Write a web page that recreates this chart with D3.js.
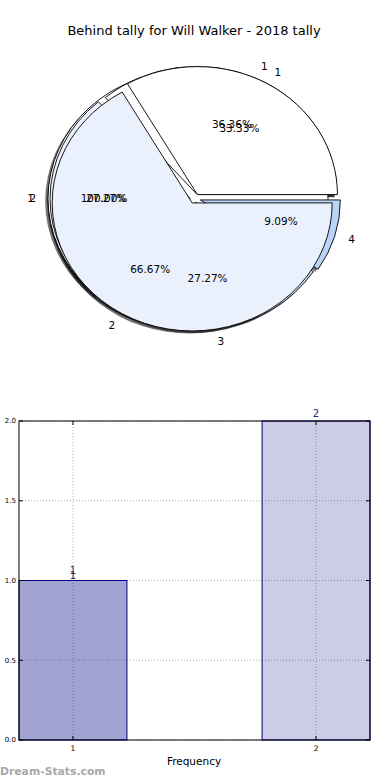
<!DOCTYPE html>
<html><head><meta charset="utf-8">
<script src="https://cdn.jsdelivr.net/npm/d3@7"></script>
<style>body{margin:0;background:#fff}svg{display:block;font-family:"DejaVu Sans",sans-serif}</style>
</head><body>
<script>
// ---- data ----
const title = "Behind tally for Will Walker - 2018 tally";
const pieCLabels = ["1"];
const pieCValues = [1];
const pieBLabels = ["1", "2", "3", "4"];
const pieBValues = [4, 3, 3, 1];
const pieALabels = ["1", "2"];
const pieAValues = [1, 2];
const barCategories = [1, 2];
const barValues = [1, 2];
const yTicks = [0.0, 0.5, 1.0, 1.5, 2.0];
const xLabel = "Frequency";
const watermark = "Dream-Stats.com";

// ---- styles ----
const pieCColors = ["#ffffff"];
const pieBColors = ["#ffffff", "#ebf1fc", "#c6dbf7", "#b9d4f7"];
const pieAColors = ["#ffffff", "#ebf1fc"];
const pieCExplode = [0.05];
const pieBExplode = [0.035, 0.035, 0.03, 0.04];
const pieAExplode = [0.035, 0.04];
const barAlphas = [0.36, 0.2];

const W = 390, H = 780;
const svg = d3.select("body").append("svg").attr("width", W).attr("height", H);

svg.append("text").attr("x", 194).attr("y", 35).attr("text-anchor", "middle")
  .attr("font-size", 13).attr("fill", "#000").text(title);

// ---- pies ----
const cx = 195, cy = 198.5, rx = 140, ry = 128;
const arcGen = d3.arc().innerRadius(0).outerRadius(1);
const pies = [
  {labels: pieCLabels, values: pieCValues, colors: pieCColors, explode: pieCExplode},
  {labels: pieBLabels, values: pieBValues, colors: pieBColors, explode: pieBExplode},
  {labels: pieALabels, values: pieAValues, colors: pieAColors, explode: pieAExplode}
];
const pieLayout = d3.pie().sort(null).value(d => d);
pies.forEach(p => {
  const total = d3.sum(p.values);
  p.wedges = pieLayout(p.values).map((a, i) => {
    const t1 = a.startAngle, t2 = a.endAngle; // mpl angles, ccw from 3 o'clock
    const mid = (t1 + t2) / 2;
    const e = p.explode[i];
    return {
      i, mid, t1, t2,
      ox: cx + e * rx * Math.cos(mid), oy: cy - e * ry * Math.sin(mid),
      arc: {startAngle: Math.PI / 2 - t2, endAngle: Math.PI / 2 - t1},
      color: p.colors[i], label: p.labels[i],
      pct: (100 * p.values[i] / total).toFixed(2) + "%"
    };
  });
});
const shadowG = svg.append("g");
const wedgeG = svg.append("g");
const textG = svg.append("g");
pies.forEach(p => {
  p.wedges.forEach(w => {
    shadowG.append("path")
      .attr("transform", `translate(${w.ox - 2.8},${w.oy + 2.6}) scale(${rx},${ry})`)
      .attr("d", arcGen(w.arc)).attr("fill", "#000").attr("fill-opacity", 0.55)
      .attr("stroke", "none");
  });
});
pies.forEach(p => {
  p.wedges.forEach(w => {
    wedgeG.append("path")
      .attr("transform", `translate(${w.ox},${w.oy}) scale(${rx},${ry})`)
      .attr("d", arcGen(w.arc)).attr("fill", w.color)
      .attr("stroke", "#000").attr("stroke-width", 0.9)
      .attr("vector-effect", "non-scaling-stroke").attr("stroke-linejoin", "miter");
  });
  p.wedges.forEach(w => {
    const c = Math.cos(w.mid), s = Math.sin(w.mid);
    const lx = w.ox + 1.1 * rx * c, ly = w.oy - 1.1 * ry * s;
    textG.append("text").attr("x", lx).attr("y", ly).attr("dy", "0.35em")
      .attr("text-anchor", c > 1e-9 ? "start" : "end")
      .attr("font-size", 10.5).attr("fill", "#000").text(w.label);
    const px = w.ox + 0.6 * rx * c, py = w.oy - 0.6 * ry * s;
    textG.append("text").attr("x", px).attr("y", py).attr("dy", "0.35em")
      .attr("text-anchor", "middle")
      .attr("font-size", 10.5).attr("fill", "#000").text(w.pct);
  });
});

// ---- bar chart ----
const L = 19, R = 370, T = 421, B = 740;
const barW = 0.444;
const x = d3.scaleLinear().domain([1 - barW / 2, 2 + barW / 2]).range([L, R]);
const y = d3.scaleLinear().domain([0, 2]).range([B, T]);
const g = svg.append("g");
// grid
g.selectAll(".gy").data(yTicks).join("line")
  .attr("x1", L).attr("x2", R).attr("y1", d => y(d)).attr("y2", d => y(d))
  .attr("stroke", "#b0b0b0").attr("stroke-dasharray", "1,2").attr("stroke-width", 1);
g.selectAll(".gx").data(barCategories).join("line")
  .attr("x1", d => x(d)).attr("x2", d => x(d)).attr("y1", T).attr("y2", B)
  .attr("stroke", "#b0b0b0").attr("stroke-dasharray", "1,2").attr("stroke-width", 1);
// bars
g.selectAll(".bar").data(barValues).join("rect")
  .attr("x", (d, i) => x(barCategories[i] - barW / 2))
  .attr("width", (d, i) => x(barCategories[i] + barW / 2) - x(barCategories[i] - barW / 2))
  .attr("y", d => y(d)).attr("height", d => B - y(d))
  .attr("fill", "navy").attr("fill-opacity", (d, i) => barAlphas[i])
  .attr("stroke", "navy").attr("stroke-width", 1);
// bar labels
barValues.forEach((v, i) => {
  const offs = i === 0 ? [-2, -7] : [-4];
  offs.forEach(o => {
    g.append("text").attr("x", x(barCategories[i])).attr("y", y(v) + o)
      .attr("text-anchor", "middle").attr("font-size", 10).attr("fill", "#1c2a78").text(v);
  });
});
// frame
g.append("rect").attr("x", L).attr("y", T).attr("width", R - L).attr("height", B - T)
  .attr("fill", "none").attr("stroke", "#000").attr("stroke-width", 1);
// ticks
yTicks.forEach(t => {
  g.append("line").attr("x1", L).attr("x2", L + 4).attr("y1", y(t)).attr("y2", y(t)).attr("stroke", "#000");
  g.append("line").attr("x1", R - 4).attr("x2", R).attr("y1", y(t)).attr("y2", y(t)).attr("stroke", "#000");
  g.append("text").attr("x", L - 3).attr("y", y(t)).attr("dy", "0.35em")
    .attr("text-anchor", "end").attr("font-size", 7).attr("fill", "#000").text(t.toFixed(1));
});
barCategories.forEach(c => {
  g.append("line").attr("x1", x(c)).attr("x2", x(c)).attr("y1", B).attr("y2", B - 4).attr("stroke", "#000");
  g.append("line").attr("x1", x(c)).attr("x2", x(c)).attr("y1", T).attr("y2", T + 4).attr("stroke", "#000");
  g.append("text").attr("x", x(c)).attr("y", B + 11).attr("text-anchor", "middle")
    .attr("font-size", 7.5).attr("fill", "#000").text(c);
});
g.append("text").attr("x", 194).attr("y", 765).attr("text-anchor", "middle")
  .attr("font-size", 10.5).attr("fill", "#000").text(xLabel);
svg.append("text").attr("x", 0).attr("y", 775).attr("font-size", 10.8).attr("font-weight", "bold")
  .attr("fill", "#a8a8a8").text(watermark);
</script>
</body></html>
